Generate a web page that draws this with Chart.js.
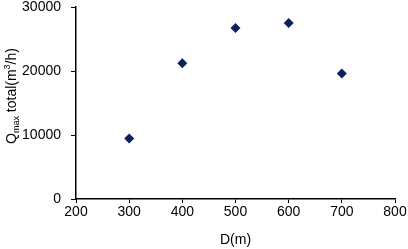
<!DOCTYPE html>
<html>
<head>
<meta charset="utf-8">
<script src="https://cdn.jsdelivr.net/npm/chart.js@4/dist/chart.umd.min.js"></script>
<style>
html,body{margin:0;padding:0;background:#fff;}
#wrap{width:408px;height:249px;}
</style>
</head>
<body>
<div id="wrap"><canvas id="c" width="408" height="249"></canvas></div>
<script>
const diameters = [300, 400, 500, 600, 700];
const qmaxTotal = [9450, 21200, 26700, 27500, 19600];
const xTicks = [200, 300, 400, 500, 600, 700, 800];
const yTicks = [0, 10000, 20000, 30000];
const xTitle = 'D(m)';
const yTitleParts = [
  {t: 'Q', s: 'n'},
  {t: 'max', s: 'sub'},
  {t: ' total(m', s: 'n'},
  {t: '3', s: 'sup'},
  {t: '/h)', s: 'n'}
];

const FONT = 'Liberation Sans, Arial, sans-serif';

const yTitlePlugin = {
  id: 'yTitle',
  afterDraw(chart) {
    const ctx = chart.ctx;
    const area = chart.chartArea;
    const cy = (area.top + area.bottom) / 2 - 7;
    ctx.save();
    ctx.fillStyle = '#000';
    ctx.textBaseline = 'alphabetic';
    const sizes = {n: 14, sub: 9, sup: 9};
    let total = 0;
    const widths = [];
    for (const p of yTitleParts) {
      ctx.font = sizes[p.s] + 'px ' + FONT;
      const w = ctx.measureText(p.t).width;
      widths.push(w);
      total += w;
    }
    ctx.translate(16, cy);
    ctx.rotate(-Math.PI / 2);
    let x = -total / 2;
    yTitleParts.forEach((p, i) => {
      ctx.font = sizes[p.s] + 'px ' + FONT;
      const dy = p.s === 'sub' ? 3 : (p.s === 'sup' ? -6 : 0);
      ctx.fillText(p.t, x, dy);
      x += widths[i];
    });
    ctx.restore();
  }
};

new Chart(document.getElementById('c'), {
  type: 'scatter',
  data: {
    datasets: [{
      data: diameters.map((d, i) => ({x: d, y: qmaxTotal[i]})),
      pointStyle: 'rectRot',
      pointRadius: 5,
      pointHoverRadius: 5,
      backgroundColor: '#0b215e',
      borderColor: '#0b215e',
      borderWidth: 0
    }]
  },
  options: {
    responsive: false,
    animation: false,
    events: [],
    layout: {padding: {top: 7, right: 13, left: 0, bottom: 0}},
    plugins: {legend: {display: false}, tooltip: {enabled: false}},
    scales: {
      x: {
        type: 'linear',
        min: xTicks[0],
        max: xTicks[xTicks.length - 1],
        afterBuildTicks(s) { s.ticks = xTicks.map(v => ({value: v})); },
        afterFit(s) { s.height = 50; s.paddingRight = 0; s.paddingLeft = 0; },
        grid: {display: true, drawOnChartArea: false, drawTicks: true, tickLength: 4, tickColor: '#000', tickWidth: 1},
        border: {display: true, color: '#000', width: 1.5},
        ticks: {color: '#000', font: {family: FONT, size: 14}, padding: 1, maxRotation: 0, callback: v => String(v)},
        title: {display: true, text: xTitle, color: '#000', font: {family: FONT, size: 14}, padding: {top: 0, bottom: 0}}
      },
      y: {
        type: 'linear',
        min: yTicks[0],
        max: yTicks[yTicks.length - 1],
        afterBuildTicks(s) { s.ticks = yTicks.map(v => ({value: v})); },
        afterFit(s) { s.width = 76; s.paddingTop = 0; s.paddingBottom = 0; },
        grid: {display: true, drawOnChartArea: false, drawTicks: true, tickLength: 5, tickColor: '#000', tickWidth: 1},
        border: {display: true, color: '#000', width: 1.5},
        ticks: {color: '#000', font: {family: FONT, size: 14, lineHeight: 1}, padding: 10, callback: v => String(v)}
      }
    }
  },
  plugins: [yTitlePlugin]
});
</script>
</body>
</html>
